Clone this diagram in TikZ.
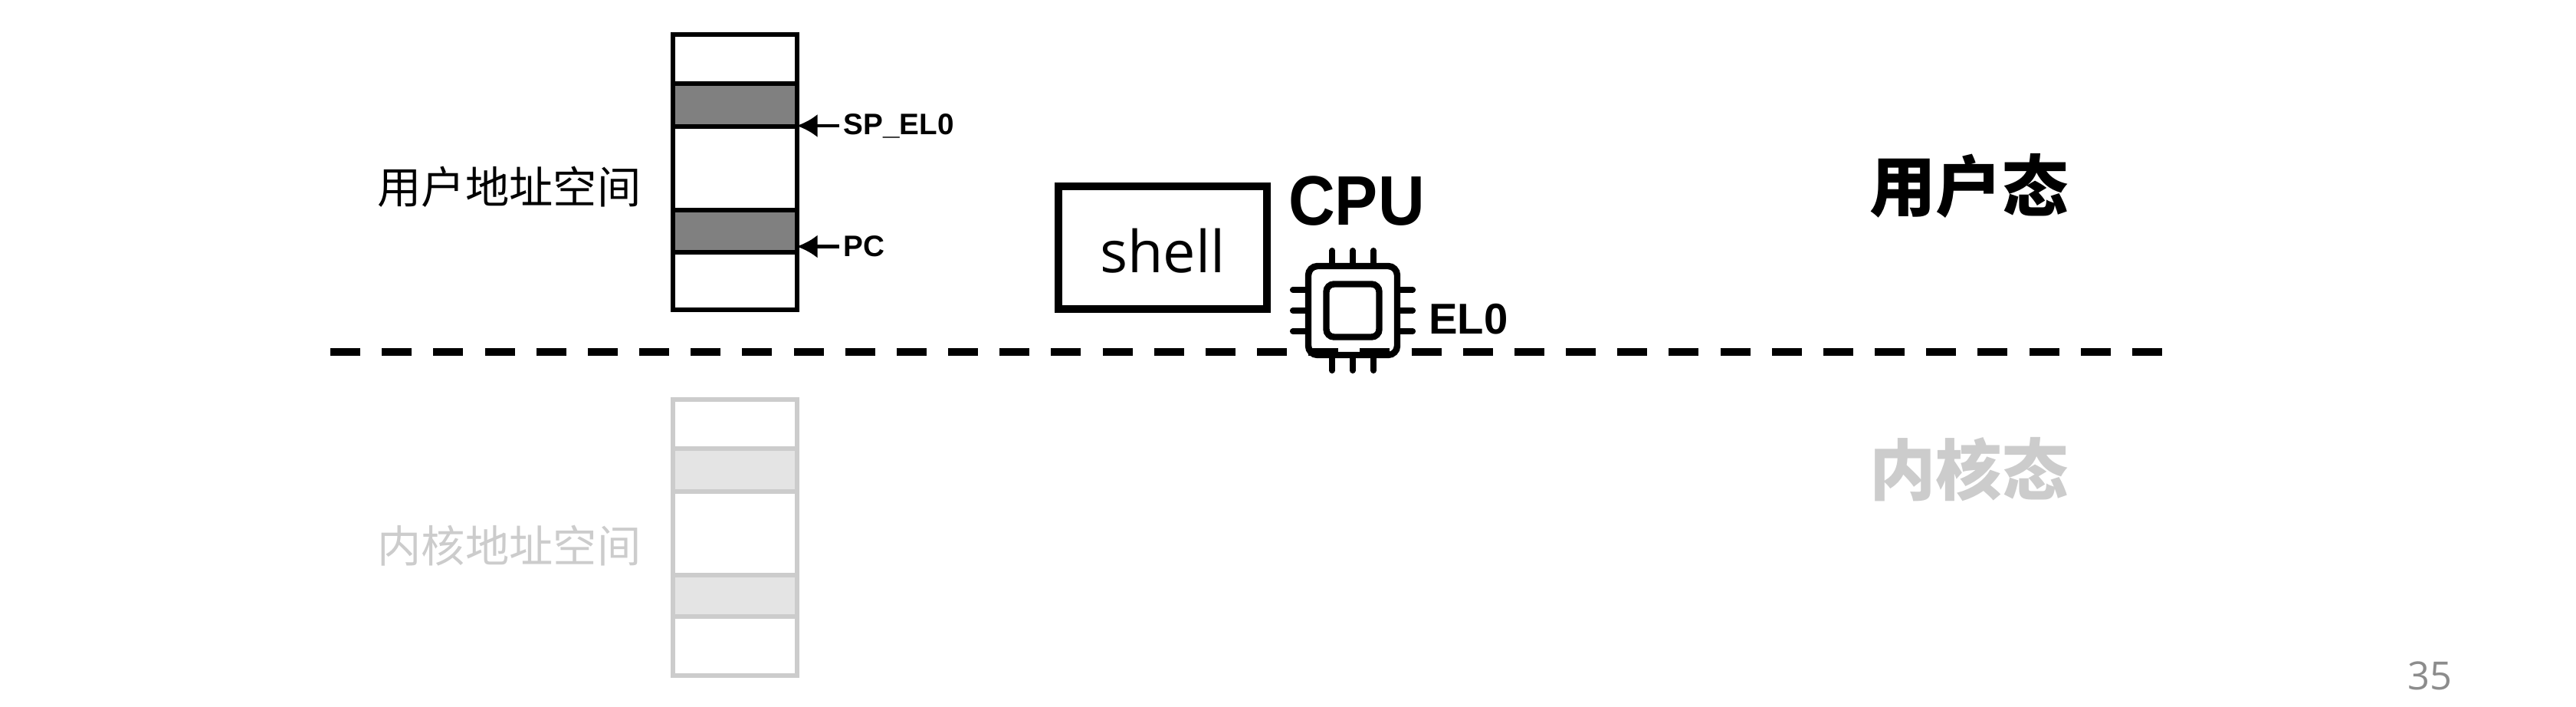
\documentclass[tikz,border=0pt]{standalone}
\usepackage{fontspec}
\usepackage{xcolor}
\usetikzlibrary{arrows.meta}
\setmainfont{Liberation Sans}
\newfontfamily\cjkfont{Noto Sans CJK SC}
\newfontfamily\shellfont{Open Sans}
\definecolor{faded}{HTML}{CCCCCC}
\definecolor{fadedfill}{HTML}{E4E4E4}
\definecolor{slotfill}{HTML}{808080}
\definecolor{pagegray}{HTML}{8C8C8C}
\tikzset{
  cell/.style={draw,line width=1.7pt,minimum width=1.62cm,inner sep=0pt,fill=white},
  slot/.style={cell,fill=slotfill},
  kcell/.style={cell,draw=faded},
  kslot/.style={cell,draw=faded,fill=fadedfill},
  ptr/.style={-{Latex[length=0.27cm,width=0.3cm]},line width=1.2pt,shorten >=-0.03cm},
  pin/.style={line width=2.2pt,line cap=round},
  spacelabel/.style={inner sep=0pt,font=\cjkfont\fontsize{16.3}{16.3}\selectfont},
  modelabel/.style={inner sep=0pt,font=\cjkfont\bfseries\fontsize{24.6}{24.6}\selectfont},
  ptrlabel/.style={inner sep=0pt,anchor=west,font=\bfseries\fontsize{11}{11}\selectfont},
}
\begin{document}
\begin{tikzpicture}[x=1cm,y=-1cm]
\useasboundingbox (0,0) rectangle (33.61,9.22);
%user stack
\node[cell,minimum height=0.64cm] (u1) at (9.585,0.77) {};
\node[slot,minimum height=0.56cm] (u2) at (9.585,1.37) {};
\node[cell,minimum height=1.09cm] (u3) at (9.585,2.195) {};
\node[slot,minimum height=0.55cm] (u4) at (9.585,3.015) {};
\node[cell,minimum height=0.75cm] (u5) at (9.585,3.665) {};
%kernel stack
\node[kcell,minimum height=0.64cm] (k1) at (9.585,5.53) {};
\node[kslot,minimum height=0.56cm] (k2) at (9.585,6.13) {};
\node[kcell,minimum height=1.09cm] (k3) at (9.585,6.955) {};
\node[kslot,minimum height=0.54cm] (k4) at (9.585,7.77) {};
\node[kcell,minimum height=0.77cm] (k5) at (9.585,8.425) {};
%labels
\node[spacelabel] (userspace) at (6.645,2.44) {用户地址空间};
\node[spacelabel,text=faded] (kernelspace) at (6.645,7.12) {内核地址空间};
\node[modelabel] (usermode) at (25.69,2.42) {用户态};
\node[modelabel,text=faded] (kernelmode) at (25.69,6.12) {内核态};
\node[ptrlabel] (splabel) at (11.0,1.64) {SP\_EL0};
\node[ptrlabel] (pclabel) at (11.0,3.215) {PC};
\draw[ptr] (splabel.west) ++(-0.05,0) -- (splabel.west -| u2.east);
\draw[ptr] (pclabel.west) ++(-0.05,0) -- (pclabel.west -| u4.east);
%shell and cpu
\node[draw,line width=2.8pt,minimum width=2.72cm,minimum height=1.6cm,inner sep=0pt,font=\shellfont\fontsize{21.5}{21.5}\selectfont] (shell) at (15.17,3.23) {\raisebox{-0.33cm}[0pt][0pt]{shell}};
\node[inner sep=0pt,font=\bfseries\fontsize{26}{26}\selectfont] (cpu) at (17.7,2.62) {\scalebox{0.92}[1]{CPU}};
\node[draw,rounded corners=0.12cm,line width=2.4pt,minimum size=1.16cm,inner sep=0pt] (chip) at (17.65,4.05) {};
\node[draw,rounded corners=0.1cm,line width=2.4pt,minimum size=0.69cm,inner sep=0pt] (core) at (chip) {};
\foreach \d in {-0.27,0,0.27} {
  \draw[pin] (chip.north) ++(\d,0) -- ++(0,-0.16);
  \draw[pin] (chip.south) ++(\d,0) -- ++(0,0.16);
  \draw[pin] (chip.west) ++(0,\d) -- ++(-0.16,0);
  \draw[pin] (chip.east) ++(0,\d) -- ++(0.16,0);
}
\node[inner sep=0pt,font=\bfseries\fontsize{16}{16}\selectfont] (el) at (19.16,4.16) {EL0};
%boundary
\coordinate (lineL) at (4.31,4.59);
\coordinate (lineR) at (28.21,4.59);
\draw[line width=2.8pt,dash pattern=on 0.39cm off 0.2817cm] (lineL) -- (lineR);
%page number
\node[inner sep=0pt,text=pagegray,font=\shellfont\fontsize{14.4}{14.4}\selectfont] (page) at (31.7,8.81) {35};
\end{tikzpicture}
\end{document}
